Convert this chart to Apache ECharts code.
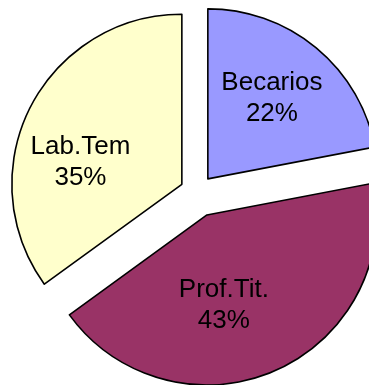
<!DOCTYPE html>
<html>
<head>
<meta charset="utf-8">
<script src="https://cdn.jsdelivr.net/npm/echarts@6/dist/echarts.min.js"></script>
<style>
  html, body { margin: 0; padding: 0; background: #ffffff; }
  #chart { width: 369px; height: 385px; }
</style>
</head>
<body>
<div id="chart"></div>
<script>
// Staff composition, share of each group (percent)
const categories = ['Becarios', 'Prof.Tit.', 'Lab.Tem'];
const shares = [22, 43, 35];
const sliceColors = ['#9999FF', '#993366', '#FFFFCC'];
// How far each slice is pulled out of the pie, in pixels
const explode = [17, 25, 17];
// Small nudges of each slice label from its default inside position
const labelNudge = [[8, -13], [-18, 10], [-23, 18]];

const chart = echarts.init(document.getElementById('chart'), null, { renderer: 'canvas' });

// One pie layer per slice so each slice can be pulled out by its own distance;
// in every layer only its own slice is painted.
const series = categories.map(function (own, k) {
  return {
    type: 'pie',
    center: [197, 192],
    radius: [0, 170],
    startAngle: 90,
    clockwise: true,
    silent: true,
    animation: false,
    selectedMode: 'multiple',
    selectedOffset: explode[k],
    emphasis: { disabled: true },
    select: { itemStyle: { borderColor: '#000000', borderWidth: 1.6 } },
    labelLine: { show: false },
    labelLayout: { dx: labelNudge[k][0], dy: labelNudge[k][1] },
    data: categories.map(function (name, i) {
      const mine = i === k;
      return {
        name: name,
        value: shares[i],
        selected: mine,
        itemStyle: mine
          ? { color: sliceColors[i], borderColor: '#000000', borderWidth: 1.6 }
          : { color: 'rgba(0,0,0,0)', borderWidth: 0 },
        label: {
          show: mine,
          position: 'inside',
          formatter: '{b}\n{c}%',
          color: '#000000',
          fontFamily: 'Liberation Sans, Arial, sans-serif',
          fontSize: 26,
          lineHeight: 31,
          align: 'center'
        }
      };
    })
  };
});

chart.setOption({
  backgroundColor: '#ffffff',
  animation: false,
  series: series
});
</script>
</body>
</html>
